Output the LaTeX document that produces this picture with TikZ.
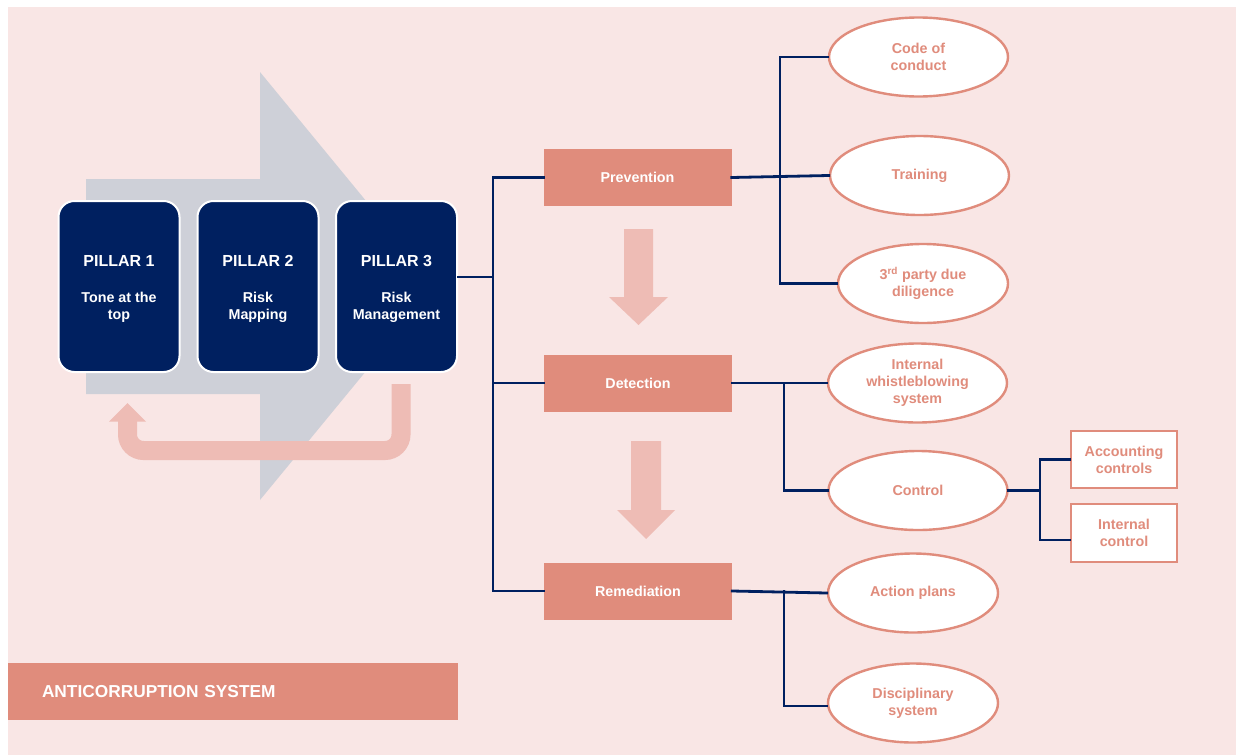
\documentclass[tikz,border=0pt]{standalone}
\usepackage{fontspec}
\setmainfont{Liberation Sans}
\usetikzlibrary{shapes.geometric}
\definecolor{bgpink}{RGB}{249,230,229}
\definecolor{grayarrow}{RGB}{206,208,216}
\definecolor{navy}{RGB}{0,32,96}
\definecolor{salmon}{RGB}{224,140,124}
\definecolor{lightpink}{RGB}{238,188,181}
\tikzset{
  txt/.style={font=\bfseries\fontsize{14.3}{17}\selectfont},
  pillar/.style={rectangle, rounded corners=16pt, fill=navy, draw=white, line width=2pt,
    minimum width=121, minimum height=171, inner sep=0pt},
  pillartext/.style={txt, text=white, align=center, inner sep=0pt},
  phase/.style={txt, rectangle, fill=salmon, text=white, minimum width=188, minimum height=57, inner sep=0pt},
  oval/.style={txt, ellipse, fill=white, draw=salmon, line width=2.4pt, text=salmon,
    minimum width=179, minimum height=79, inner sep=0pt, align=center},
  sbox/.style={txt, rectangle, fill=white, draw=salmon, line width=2.4pt, text=salmon,
    minimum width=106, minimum height=57, inner sep=0pt, align=center},
  conn/.style={draw=navy, line width=2.8pt, line cap=rect}
}
\begin{document}
\begin{tikzpicture}[x=1pt,y=-1pt]
\useasboundingbox (0,0) rectangle (1236,755);
\fill[white] (0,0) rectangle (1236,755);
\fill[bgpink] (8,7) rectangle (1236,755);

% big gray arrow
\fill[grayarrow] (86,179) -- (260,179) -- (260,72) -- (436,286) -- (260,500) -- (260,394) -- (86,394) -- cycle;

% return arrow
\draw[lightpink, line width=19pt, rounded corners=16pt] (401,384) -- (401,450.5) -- (127.5,450.5) -- (127.5,420);
\fill[lightpink] (109,421.5) -- (146,421.5) -- (127.5,403) -- cycle;

% pillars
\node[pillar] (p1) at (119,286.5) {};
\node[pillar] (p2) at (258,286.5) {};
\node[pillar] (p3) at (396.5,286.5) {};
\node[pillartext] (p1t) at ([yshift=-2.5pt]p1.center) {{\fontsize{16}{17}\selectfont PILLAR 1}\\[19pt]Tone at the\\top};
\node[pillartext] (p2t) at ([yshift=-2.5pt]p2.center) {{\fontsize{16}{17}\selectfont PILLAR 2}\\[19pt]Risk\\Mapping};
\node[pillartext] (p3t) at ([yshift=-2.5pt]p3.center) {{\fontsize{16}{17}\selectfont PILLAR 3}\\[19pt]Risk\\Management};

% phases
\node[phase] (prev) at (637.5,177.5) {Prevention};
\node[phase] (det) at (638,383) {Detection};
\node[phase] (rem) at (638,591) {Remediation};

% down arrows
\fill[lightpink] (624,229) -- (653,229) -- (653,297) -- (668,297) -- (638.5,325) -- (609,297) -- (624,297) -- cycle;
\fill[lightpink] (631,441) -- (661,441) -- (661,510) -- (675,510) -- (646,539) -- (617,510) -- (631,510) -- cycle;

% ellipses
\node[oval] (code) at (918.5,57) {Code of\\conduct};
\node[oval] (train) at (919.5,175.5) {Training};
\node[oval, minimum width=170] (third) at (923,283.5) {3\textsuperscript{rd} party due\\diligence};
\node[oval] (whistle) at (917.5,383) {Internal\\whistleblowing\\system};
\node[oval] (ctrl) at (918,490.5) {Control};
\node[oval, minimum width=170] (action) at (913,593) {Action plans};
\node[oval, minimum width=170] (disc) at (913,703) {Disciplinary\\system};

% small boxes
\node[sbox] (acc) at (1124,459.5) {Accounting\\controls};
\node[sbox, minimum height=58] (intc) at (1124,533) {Internal\\control};

% bottom bar
\node[rectangle, fill=salmon, text=white, minimum width=450, minimum height=57, inner sep=0pt,
  text width=382, align=left, font=\bfseries\fontsize{17.3}{19}\selectfont] (bar) at (233,691.5) {ANTICORRUPTION SYSTEM};

% bus coordinates
\coordinate (busL) at (493,0);
\coordinate (busP) at (780,0);
\coordinate (busD) at (784,0);
\coordinate (busC) at (1040,0);

% connectors left
\draw[conn] ([yshift=9.5pt]p3.east) -- ([yshift=9.5pt]p3.east -| busL);
\draw[conn] (prev.west) -- (prev.west -| busL) -- (rem.west -| busL) -- (rem.west);
\draw[conn] (det.west) -- (det.west -| busL);

% prevention
\draw[conn] (prev.east) -- (train.west);
\draw[conn] (code.west) -- (code.west -| busP) -- (third.west -| busP) -- (third.west);

% detection
\draw[conn] (det.east) -- (whistle.west);
\draw[conn] (det.east -| busD) |- (ctrl.west);

% control
\draw[conn] (ctrl.east) -- (ctrl.east -| busC);
\draw[conn] (acc.west) -- (acc.west -| busC) -- ([yshift=-7pt]intc.west -| busC) -- ([yshift=-7pt]intc.west);

% remediation
\draw[conn] (rem.east) -- (action.west);
\draw[conn] (rem.east -| busD) |- ([yshift=-3pt]disc.west);
\end{tikzpicture}
\end{document}
